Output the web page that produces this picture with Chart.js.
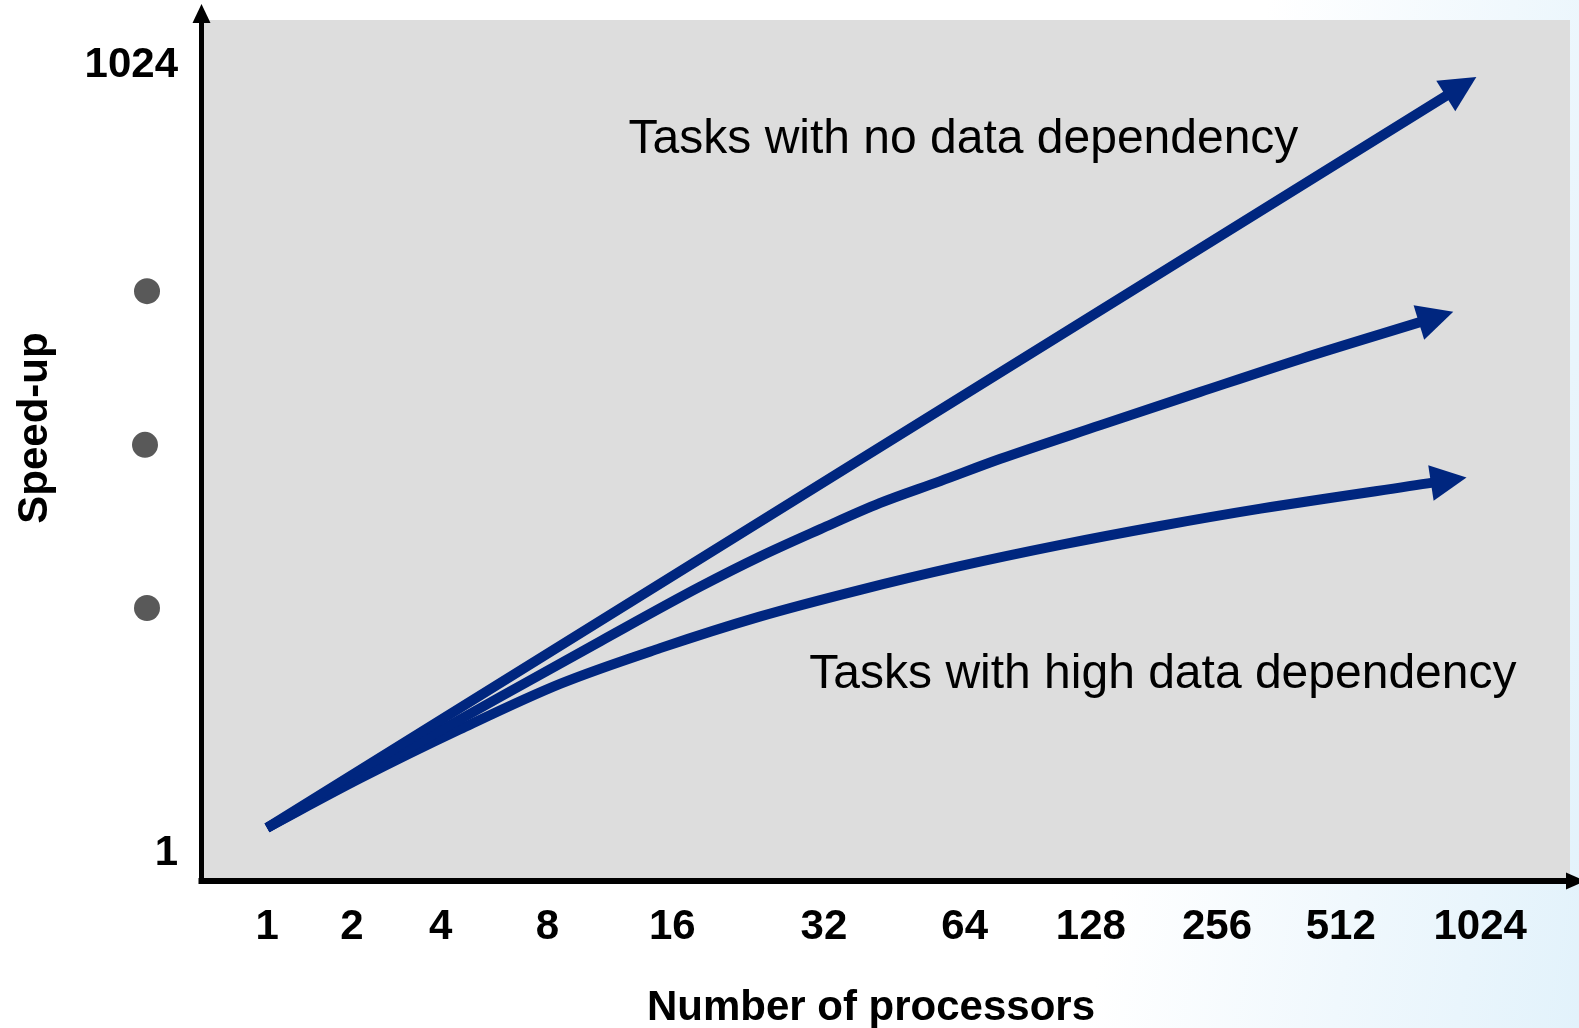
<!DOCTYPE html>
<html>
<head>
<meta charset="utf-8">
<title>Speed-up vs number of processors</title>
<script src="https://cdn.jsdelivr.net/npm/chart.js@4.4.1/dist/chart.umd.min.js"></script>
<style>
  html, body { margin: 0; padding: 0; }
  body {
    width: 1579px; height: 1028px; overflow: hidden;
    background: linear-gradient(100deg, #ffffff 0%, #ffffff 72%, #f0f8fd 86%, #e2f2fb 100%);
  }
  #wrap { position: relative; width: 1579px; height: 1028px; }
</style>
</head>
<body>
<div id="wrap"><canvas id="speedup"></canvas></div>
<script>
// ─── Data ───
// x: place along the processor axis (tick "1" = 0, tick "1024" = 10)
// y: log2(speed-up) (1 = 0, 1024 = 10)
const xTickPos    = [0, 0.70, 1.43, 2.31, 3.34, 4.59, 5.75, 6.79, 7.83, 8.85, 10];
const xTickLabels = ['1', '2', '4', '8', '16', '32', '64', '128', '256', '512', '1024'];
const yTickPos    = [0, 10];
const yTickLabels = ['1', '1024'];
const yDotPos     = [7.13, 5.18, 3.11];   // the vertical ellipsis between 1 and 1024

const noDepX   = [0, 9.73];
const noDepY   = [0.32, 9.62];
const midDepX  = [0, 1.10, 1.92, 2.75, 3.57, 4.06, 4.56, 5.05, 5.55, 6.04, 6.87, 7.69, 8.52, 9.51];
const midDepY  = [0.32, 1.27, 1.98, 2.69, 3.38, 3.76, 4.11, 4.44, 4.72, 5.00, 5.43, 5.85, 6.27, 6.74];
const highDepX = [0, 0.77, 1.59, 2.42, 3.24, 4.06, 4.89, 5.71, 6.54, 7.36, 8.19, 9.61];
const highDepY = [0.32, 0.95, 1.57, 2.15, 2.60, 3.00, 3.34, 3.64, 3.91, 4.15, 4.37, 4.70];

const noteTexts = ['Tasks with no data dependency', 'Tasks with high data dependency'];
const noteX     = [2.98, 4.47];
const noteY     = [8.88, 2.09];

// ─── Style ───
const FONT   = '"Liberation Sans", Arial, sans-serif';
const NAVY   = '#00267f';
const PANEL  = '#dddddd';

const zip = (xs, ys) => xs.map((x, i) => ({ x, y: ys[i] }));

// no extra room for the edge labels: the layout is fixed
const noPad = (s) => { s.paddingTop = 0; s.paddingBottom = 0; s.paddingLeft = 0; s.paddingRight = 0; };

// gray panel behind the curves
const panelPlugin = {
  id: 'panel',
  beforeDraw(chart) {
    const { ctx, chartArea: a } = chart;
    ctx.save();
    ctx.fillStyle = PANEL;
    ctx.fillRect(a.left, a.top, a.right - a.left, a.bottom - a.top);
    ctx.restore();
  }
};

// arrow heads at the end of every curve
const arrowPlugin = {
  id: 'arrows',
  afterDatasetsDraw(chart) {
    const ctx = chart.ctx;
    chart.data.datasets.forEach((ds, i) => {
      const pts = chart.getDatasetMeta(i).data;
      const p = pts[pts.length - 1];
      const q = pts[pts.length - 2];
      let dx = p.x - (p.cp1x ?? q.x), dy = p.y - (p.cp1y ?? q.y);
      if (Math.hypot(dx, dy) < 1) { dx = p.x - q.x; dy = p.y - q.y; }
      const len = Math.hypot(dx, dy);
      dx /= len; dy /= len;
      const L = 34, W = 36;
      const bx = p.x - dx * 2, by = p.y - dy * 2;
      ctx.save();
      ctx.fillStyle = NAVY;
      ctx.beginPath();
      ctx.moveTo(p.x + dx * L, p.y + dy * L);
      ctx.lineTo(bx - dy * W / 2, by + dx * W / 2);
      ctx.lineTo(bx + dy * W / 2, by - dx * W / 2);
      ctx.closePath();
      ctx.fill();
      ctx.restore();
    });
  }
};

// axes with arrows, dots, notes and axis titles
const decorPlugin = {
  id: 'decor',
  afterDraw(chart) {
    const { ctx, chartArea: a, scales } = chart;
    const ax = a.left - 2.5;
    const ay = a.bottom + 3;
    ctx.save();
    ctx.fillStyle = '#000';
    // y axis
    ctx.fillRect(ax - 2.5, 20, 5, ay + 3 - 20);
    ctx.beginPath();
    ctx.moveTo(ax, 4); ctx.lineTo(ax - 9, 23); ctx.lineTo(ax + 9, 23);
    ctx.closePath(); ctx.fill();
    // x axis
    ctx.fillRect(ax - 3, ay - 3, 1567 - (ax - 3), 6);
    ctx.beginPath();
    ctx.moveTo(1585, ay); ctx.lineTo(1566, ay - 8.5); ctx.lineTo(1566, ay + 8.5);
    ctx.closePath(); ctx.fill();

    // vertical ellipsis between the y ticks
    ctx.fillStyle = '#595959';
    const dotShift = [0, -2, 0];
    yDotPos.forEach((v, i) => {
      ctx.beginPath();
      ctx.arc(a.left - 57 + dotShift[i], scales.y.getPixelForValue(v), 13, 0, Math.PI * 2);
      ctx.fill();
    });

    // notes
    ctx.fillStyle = '#000';
    ctx.font = '48px ' + FONT;
    ctx.textAlign = 'left';
    ctx.textBaseline = 'alphabetic';
    noteTexts.forEach((t, i) => {
      ctx.fillText(t, scales.x.getPixelForValue(noteX[i]), scales.y.getPixelForValue(noteY[i]));
    });

    // axis titles
    ctx.font = 'bold 42px ' + FONT;
    ctx.textAlign = 'center';
    ctx.textBaseline = 'middle';
    ctx.fillText('Number of processors', 871, 1008);
    ctx.translate(35, 428);
    ctx.rotate(-Math.PI / 2);
    ctx.fillText('Speed-up', 0, 0);
    ctx.restore();
  }
};

const lineStyle = {
  borderColor: NAVY,
  backgroundColor: NAVY,
  borderWidth: 10,
  borderCapStyle: 'butt',
  pointRadius: 0,
  fill: false,
  cubicInterpolationMode: 'monotone',
};

new Chart(document.getElementById('speedup'), {
  type: 'line',
  data: {
    datasets: [
      { label: 'No data dependency',     data: zip(noDepX, noDepY),     ...lineStyle },
      { label: 'Some data dependency',   data: zip(midDepX, midDepY),   ...lineStyle },
      { label: 'High data dependency',   data: zip(highDepX, highDepY), ...lineStyle },
    ]
  },
  options: {
    responsive: true,
    maintainAspectRatio: false,
    animation: false,
    layout: { padding: { top: 20, right: 9, left: 0, bottom: 0 } },
    plugins: {
      legend: { display: false },
      tooltip: { enabled: false },
    },
    scales: {
      x: {
        type: 'linear',
        min: -0.52,
        max: 10.74,
        afterBuildTicks: (s) => { s.ticks = xTickPos.map(v => ({ value: v })); },
        afterFit: (s) => { s.height = 150; noPad(s); },
        grid: { display: false, drawTicks: false },
        border: { display: false },
        ticks: {
          autoSkip: false,
          maxRotation: 0,
          minRotation: 0,
          padding: 28,
          color: '#000',
          font: { family: FONT, size: 42, weight: 'bold', lineHeight: 1 },
          callback: (v, i) => xTickLabels[i],
        },
      },
      y: {
        type: 'linear',
        min: -0.317,
        max: 10.571,
        afterBuildTicks: (s) => { s.ticks = yTickPos.map(v => ({ value: v })); },
        afterFit: (s) => { s.width = 204; noPad(s); },
        grid: { display: false, drawTicks: false },
        border: { display: false },
        ticks: {
          autoSkip: false,
          padding: 26,
          color: '#000',
          font: { family: FONT, size: 42, weight: 'bold', lineHeight: 1 },
          callback: (v, i) => yTickLabels[i],
        },
      },
    },
  },
  plugins: [panelPlugin, arrowPlugin, decorPlugin],
});
</script>
</body>
</html>
